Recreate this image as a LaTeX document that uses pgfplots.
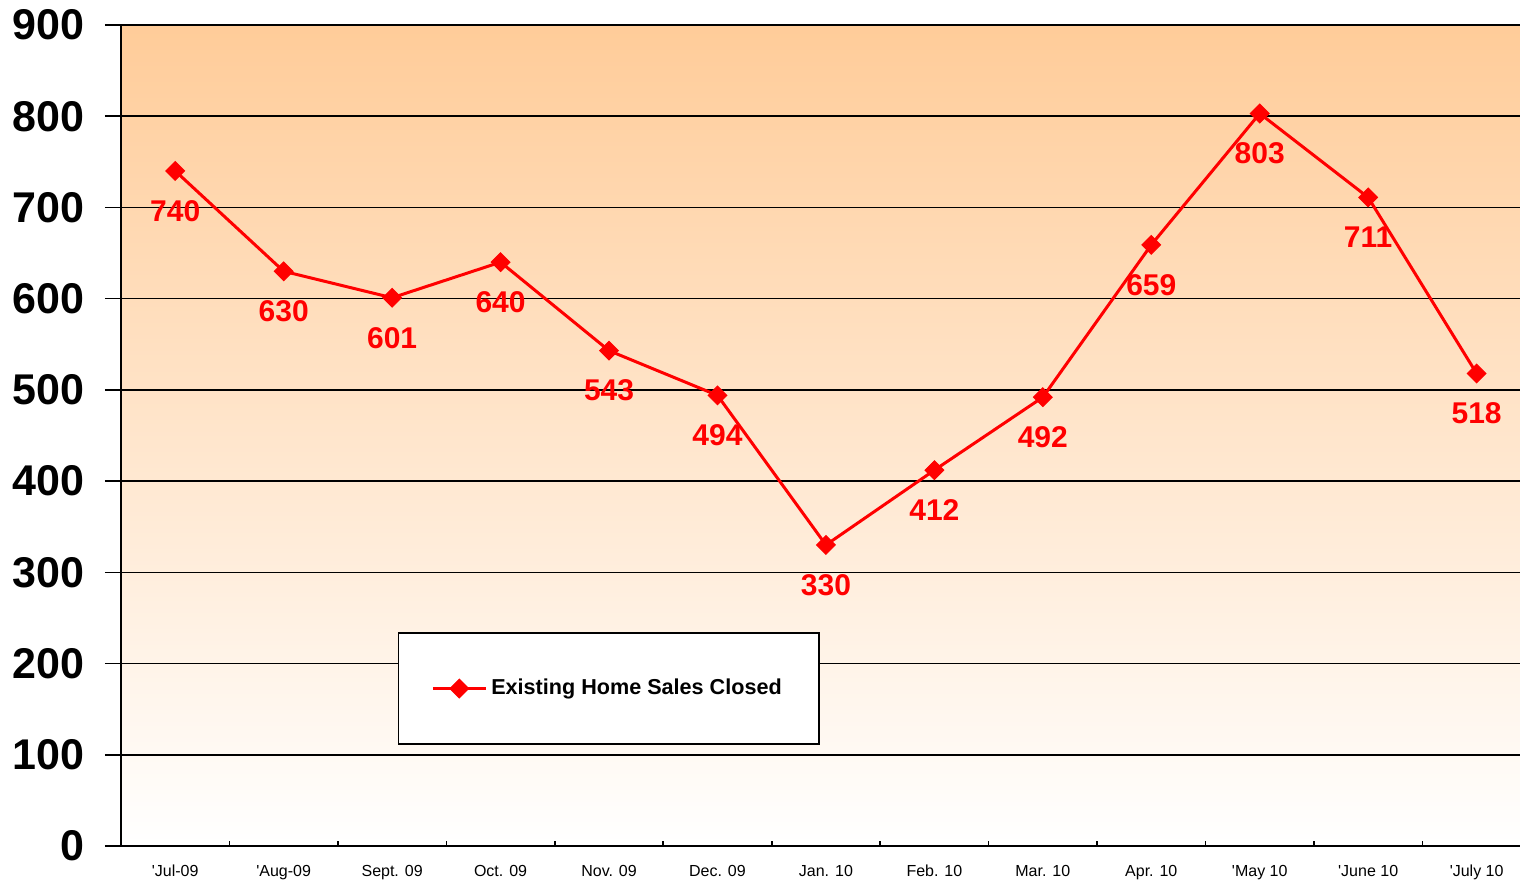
\documentclass[border=0pt]{standalone}
\usepackage{fontspec}
\setmainfont{Liberation Sans}
\usepackage{pgfplots}
\pgfplotsset{compat=1.18}
\definecolor{peach}{RGB}{255,204,153}
\definecolor{dred}{RGB}{255,0,0}
\begin{document}
\begin{tikzpicture}
\begin{axis}[
  scale only axis,
  width=699.5pt, height=410.5pt,
  xmin=-0.5, xmax=12.4,
  ymin=0, ymax=900,
  axis lines*=left,
  axis line style={black, line width=1pt},
  axis background/.style={top color=peach, bottom color=white},
  ytick={0,100,...,900},
  ymajorgrids,
  grid style={black, line width=0.8pt},
  ytick align=outside,
  y tick style={black, line width=0.8pt},
  major tick length=8pt,
  minor tick length=2.5pt,
  /pgf/number format/assume math mode=true,
  yticklabel style={font=\bfseries\fontsize{21.5}{22}\selectfont, xshift=-7pt},
  xtick={0,1,...,12},
  xticklabels={\textquotesingle Jul-09,\textquotesingle Aug-09,Sept. 09,Oct. 09,Nov. 09,Dec. 09,Jan. 10,Feb. 10,Mar. 10,Apr. 10,\textquotesingle May 10,\textquotesingle June 10,\textquotesingle July 10},
  xticklabel style={font=\fontsize{8}{9}\selectfont, yshift=-6pt},
  major x tick style={draw=none},
  minor xtick={0.5,1.5,...,11.5},
  minor x tick style={black, line width=0.8pt},
  xtick align=inside,
  nodes near coords,
  every node near coord/.append style={font=\bfseries\fontsize{15}{16}\selectfont, text=dred, anchor=center, yshift=-20pt},
  legend style={at={(0.3485,0.1918)}, anchor=center, draw=black, line width=0.8pt, fill=white,
    font=\bfseries\fontsize{10.8}{12}\selectfont, inner xsep=16.5pt, inner ysep=21pt},
  legend image code/.code={\draw[mark repeat=2,mark phase=2,#1] plot coordinates {(0cm,0cm) (0.465cm,0cm) (0.93cm,0cm)};},
  clip=false,
]
\addplot[dred, line width=1.5pt, mark=square*, mark size=3.3pt, mark options={rotate=45, solid, line width=0.5pt}]
coordinates {(0,740) (1,630) (2,601) (3,640) (4,543) (5,494) (6,330) (7,412) (8,492) (9,659) (10,803) (11,711) (12,518)};
\addlegendentry{Existing Home Sales Closed}
\end{axis}
\pgfresetboundingbox
\path (-60.5pt,-18.5pt) rectangle (699.5pt,423pt);
\end{tikzpicture}
\end{document}
